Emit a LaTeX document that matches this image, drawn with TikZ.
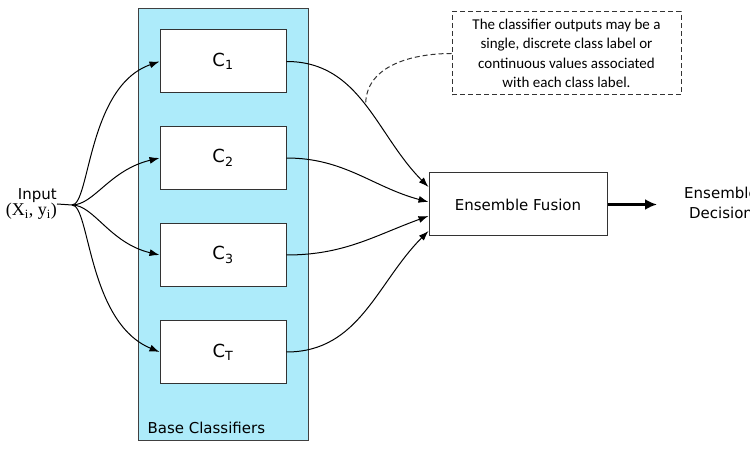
\documentclass[tikz,border=0pt]{standalone}
\usepackage{fontspec}
\setmainfont{DejaVu Sans}
\newfontfamily\serifin{Liberation Serif}
\newfontfamily\notefont{Carlito}
\usepackage{tikz}
\usetikzlibrary{arrows.meta}
\definecolor{baseblue}{RGB}{173,235,250}

\begin{document}
\begin{tikzpicture}[x=1pt,y=1pt,>={Latex[length=10pt,width=7pt]},
  clf/.style={draw=black!80,line width=1pt,fill=white,minimum width=126pt,minimum height=63pt,inner sep=0pt,font=\fontsize{18}{20}\selectfont},
  link/.style={->,line width=1pt},
  notedash/.style={dash pattern=on 5pt off 3pt,line width=1pt,draw=black!80}]

\useasboundingbox (0,0) rectangle (750,450);

\draw [draw=black!75, fill=baseblue, line width=1pt] (138,9) rectangle (308,441);
\node [anchor=west, font=\fontsize{15}{17}\selectfont] (base) at (144,22) {Base Classifiers};

\node [clf] (c1) at (223,388.5) {C\textsubscript{1}};
\node [clf] (c2) at (223,292) {C\textsubscript{2}};
\node [clf] (c3) at (223,195) {C\textsubscript{3}};
\node [clf] (cT) at (223,98) {C\textsubscript{T}};

\node [draw=black!80, line width=1pt, minimum width=178pt, minimum height=63pt, font=\fontsize{15}{17}\selectfont] (fus) at (518,245.5) {Ensemble Fusion};

\node [anchor=east, align=right, inner sep=0pt] (in) at (57,246) {\fontsize{15}{21}\selectfont Input\\ \fontsize{18}{21}\serifin (X\textsubscript{i}, y\textsubscript{i})};
\coordinate (split) at (72,245);
\node [align=center, font=\fontsize{15}{20}\selectfont] (dec) at (721,247) {Ensemble\\Decision};
\coordinate (out) at (657,245.5);

\node [notedash, minimum width=229pt, minimum height=83pt, align=center, font=\notefont\fontsize{15}{19.5}\selectfont] (note) at (566.5,396.5) {The classifier outputs may be a\\single, discrete class label or\\continuous values associated\\with each class label.};

\draw [line width=1pt] (in.east) -- (split);
\draw [link] (split) .. controls +(18,0) and +(-72,-25) .. (c1.west);
\draw [link] (split) .. controls +(22,0) and +(-50,-12) .. (c2.west);
\draw [link] (split) .. controls +(22,0) and +(-50,12) .. (c3.west);
\draw [link] (split) .. controls +(18,0) and +(-72,30) .. (cT.west);

\draw [link] (c1.east) to[out=0,in=135] coordinate[pos=0.5] (tip) ([yshift=17.5pt]fus.west);
\draw [link] (c2.east) to[out=0,in=165] ([yshift=2.5pt]fus.west);
\draw [link] (c3.east) to[out=0,in=200] ([yshift=-11.5pt]fus.west);
\draw [link] (cT.east) to[out=0,in=225] ([yshift=-26.5pt]fus.west);

\draw [notedash] (note.west) to[out=180,in=90] (tip);

\draw [->, line width=2.5pt, >={Latex[length=12pt,width=11pt]}] (fus.east) -- (out);

\end{tikzpicture}
\end{document}
